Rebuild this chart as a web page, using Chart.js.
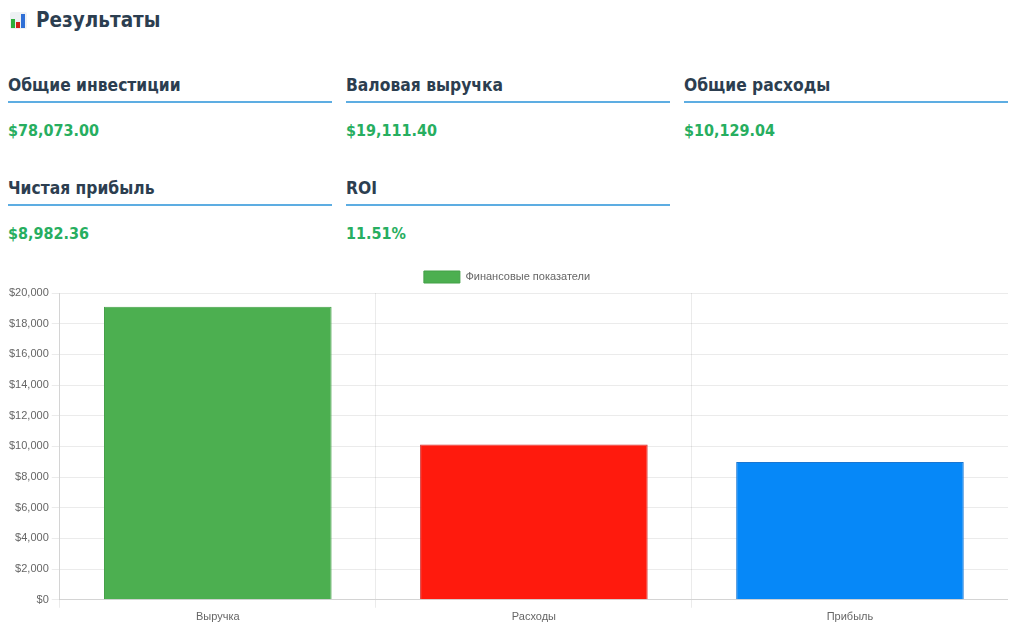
<!DOCTYPE html>
<html lang="ru">
<head>
<meta charset="utf-8">
<script src="https://cdn.jsdelivr.net/npm/chart.js@4/dist/chart.umd.min.js"></script>
<style>
  html, body { margin: 0; padding: 0; background: #fff; }
  body { width: 1024px; height: 634px; overflow: hidden; font-family: "DejaVu Sans", Verdana, sans-serif; }
  .wrap { position: relative; left: 8px; width: 1000px; }
  h2 { margin: 8px 0 0 0; height: 24px; line-height: 24px; font-size: 20.5px; font-weight: bold; color: #2c3e50; display: flex; align-items: center; font-stretch: condensed; }
  .icon { display: inline-block; position: relative; width: 17px; height: 17px; margin: 0 9px 0 2px; background: #eef1f4; border-radius: 2px; }
  .icon i { position: absolute; bottom: 1px; width: 4px; }
  .icon .g { left: 1px; height: 9px; background: #2eae3c; }
  .icon .r { left: 6px; height: 6px; background: #d0211c; }
  .icon .b { left: 11px; height: 14px; background: #2f6fd6; }
  .grid { display: grid; grid-template-columns: 324px 324px 324px; column-gap: 14px; row-gap: 37px; margin-top: 43px; }
  .card .t { font-size: 17.3px; font-weight: bold; color: #2c3e50; line-height: 20px; height: 20px; padding-bottom: 6px; border-bottom: 2px solid #5dade2; font-stretch: condensed; }
  .card .v { font-size: 16px; font-weight: bold; color: #27ae60; line-height: 20px; height: 20px; margin-top: 18px; font-stretch: condensed; }
  .chartbox { position: absolute; left: -2px; top: 263px; width: 1002px; height: 364px; }
</style>
</head>
<body>
<div class="wrap">
  <h2><span class="icon"><i class="g"></i><i class="r"></i><i class="b"></i></span>Результаты</h2>
  <div class="grid" id="grid"></div>
</div>
<div class="wrap" style="position:absolute;top:0;">
  <div class="chartbox"><canvas id="c"></canvas></div>
</div>
<script>
const metricNames = ["Общие инвестиции", "Валовая выручка", "Общие расходы", "Чистая прибыль", "ROI"];
const metricValues = ["$78,073.00", "$19,111.40", "$10,129.04", "$8,982.36", "11.51%"];

const categories = ["Выручка", "Расходы", "Прибыль"];
const seriesLabel = "Финансовые показатели";
const seriesValues = [19111.40, 10129.04, 8982.36];
const barColors = ["#4caf50", "#ff1a0d", "#0688f8"];
const barBorders = ["#43a047", "#d32f2f", "#1976d2"];

const grid = document.getElementById('grid');
metricNames.forEach((n, i) => {
  const d = document.createElement('div');
  d.className = 'card';
  d.innerHTML = '<div class="t"></div><div class="v"></div>';
  d.querySelector('.t').textContent = n;
  d.querySelector('.v').textContent = metricValues[i];
  grid.appendChild(d);
});

Chart.defaults.font.family = '"Liberation Sans", Arial, Helvetica, sans-serif';
Chart.defaults.font.size = 11;
Chart.defaults.color = '#666';

new Chart(document.getElementById('c'), {
  type: 'bar',
  data: {
    labels: categories,
    datasets: [{
      label: seriesLabel,
      data: seriesValues,
      backgroundColor: barColors,
      borderColor: barBorders,
      borderWidth: 1
    }]
  },
  options: {
    responsive: true,
    maintainAspectRatio: false,
    animation: false,
    plugins: {
      legend: {
        labels: { boxWidth: 36, boxHeight: 12, padding: 8 }
      },
      tooltip: { enabled: false }
    },
    scales: {
      x: {
        grid: { color: 'rgba(0,0,0,0.08)' }
      },
      y: {
        min: 0,
        max: 20000,
        ticks: {
          stepSize: 2000,
          callback: v => '$' + v.toLocaleString('en-US')
        },
        grid: { color: 'rgba(0,0,0,0.08)' }
      }
    }
  }
});
</script>
</body>
</html>
